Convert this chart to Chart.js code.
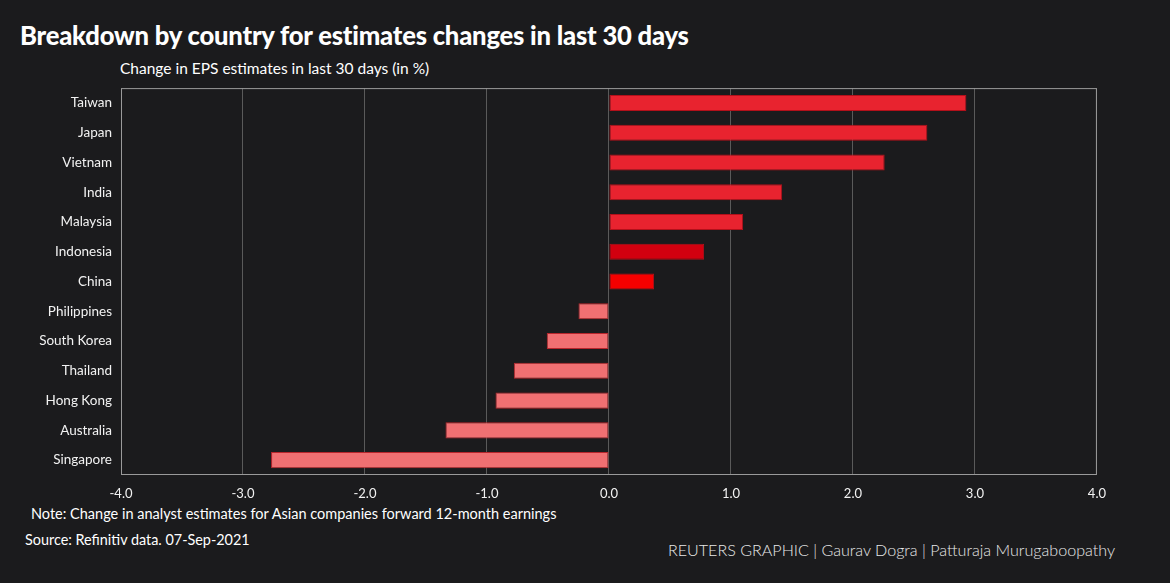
<!DOCTYPE html>
<html>
<head>
<meta charset="utf-8">
<script src="https://cdn.jsdelivr.net/npm/chart.js@4"></script>
<style>
  body { margin: 0; background: #1b1b1d; width: 1170px; height: 583px; overflow: hidden; font-family: Lato, "Open Sans", sans-serif; color: #fff; }
  .txt { position: absolute; white-space: nowrap; }
  #title { left: 20px; top: 20px; font-size: 25.6px; font-weight: 900; letter-spacing: -0.2px; }
  #sub { left: 120px; top: 59px; font-size: 15.5px; }
  #note { left: 31px; top: 505px; font-size: 14.5px; }
  #source { left: 25px; top: 531px; font-size: 14.4px; }
  #credit { left: 668px; top: 540px; font-size: 16.1px; font-weight: 300; color: #e8e8e8; }
  #wrap { position: absolute; left: 0; top: 71px; width: 1117px; height: 435px; }
</style>
</head>
<body>
<div class="txt" id="title">Breakdown by country for estimates changes in last 30 days</div>
<div class="txt" id="sub">Change in EPS estimates in last 30 days (in %)</div>
<div class="txt" id="note">Note: Change in analyst estimates for Asian companies forward 12-month earnings</div>
<div class="txt" id="source">Source: Refinitiv data. 07-Sep-2021</div>
<div class="txt" id="credit">REUTERS GRAPHIC | Gaurav Dogra | Patturaja Murugaboopathy</div>
<div id="wrap"><canvas id="chart"></canvas></div>
<script>
const countries = ["Taiwan", "Japan", "Vietnam", "India", "Malaysia", "Indonesia", "China",
  "Philippines", "South Korea", "Thailand", "Hong Kong", "Australia", "Singapore"];
const changes = [2.93, 2.61, 2.26, 1.42, 1.10, 0.78, 0.37, -0.25, -0.51, -0.78, -0.93, -1.34, -2.77];
const xTicks = [-4, -3, -2, -1, 0, 1, 2, 3, 4];

// colour per bar: standard red, two highlighted reds, pink for negatives
function barColor(v, i) {
  if (countries[i] === "Indonesia") return "#d2000f";
  if (countries[i] === "China") return "#f50000";
  return v >= 0 ? "#e8232f" : "#f07072";
}
function barBorder(v, i) {
  return v >= 0 ? "#b3101a" : "#b8262c";
}

const frame = {
  id: "frame",
  afterDraw(chart) {
    const a = chart.chartArea, c = chart.ctx;
    c.save();
    c.strokeStyle = "#9a9a9a";
    c.lineWidth = 1;
    c.strokeRect(a.left + 0.5, a.top + 0.5, a.right - a.left - 1, a.bottom - a.top - 1);
    c.restore();
  }
};

new Chart(document.getElementById("chart"), {
  type: "bar",
  data: {
    labels: countries,
    datasets: [{
      data: changes,
      backgroundColor: changes.map(barColor),
      borderColor: changes.map(barBorder),
      borderWidth: 1,
      borderSkipped: false,
      barPercentage: 0.6,
      categoryPercentage: 0.9
    }]
  },
  options: {
    indexAxis: "y",
    responsive: true,
    maintainAspectRatio: false,
    animation: false,
    layout: { padding: { top: 0, right: 0, bottom: 0, left: 0 } },
    plugins: { legend: { display: false }, tooltip: { enabled: false } },
    scales: {
      x: {
        min: -4, max: 4,
        afterBuildTicks(axis) { axis.ticks = xTicks.map(v => ({ value: v })); },
        afterFit(axis) { axis.height = 31; },
        grid: { color: "#5a5a5a", drawTicks: false },
        border: { display: false },
        ticks: { color: "#f2f2f2", padding: 11, font: { family: "Lato", size: 13 },
          callback: v => v.toFixed(1) }
      },
      y: {
        afterFit(axis) { axis.width = 121; },
        grid: { display: false, drawTicks: false },
        border: { display: false },
        ticks: { color: "#f2f2f2", padding: 9, font: { family: "Lato", size: 13.5 } }
      }
    }
  },
  plugins: [frame]
});
</script>
</body>
</html>
